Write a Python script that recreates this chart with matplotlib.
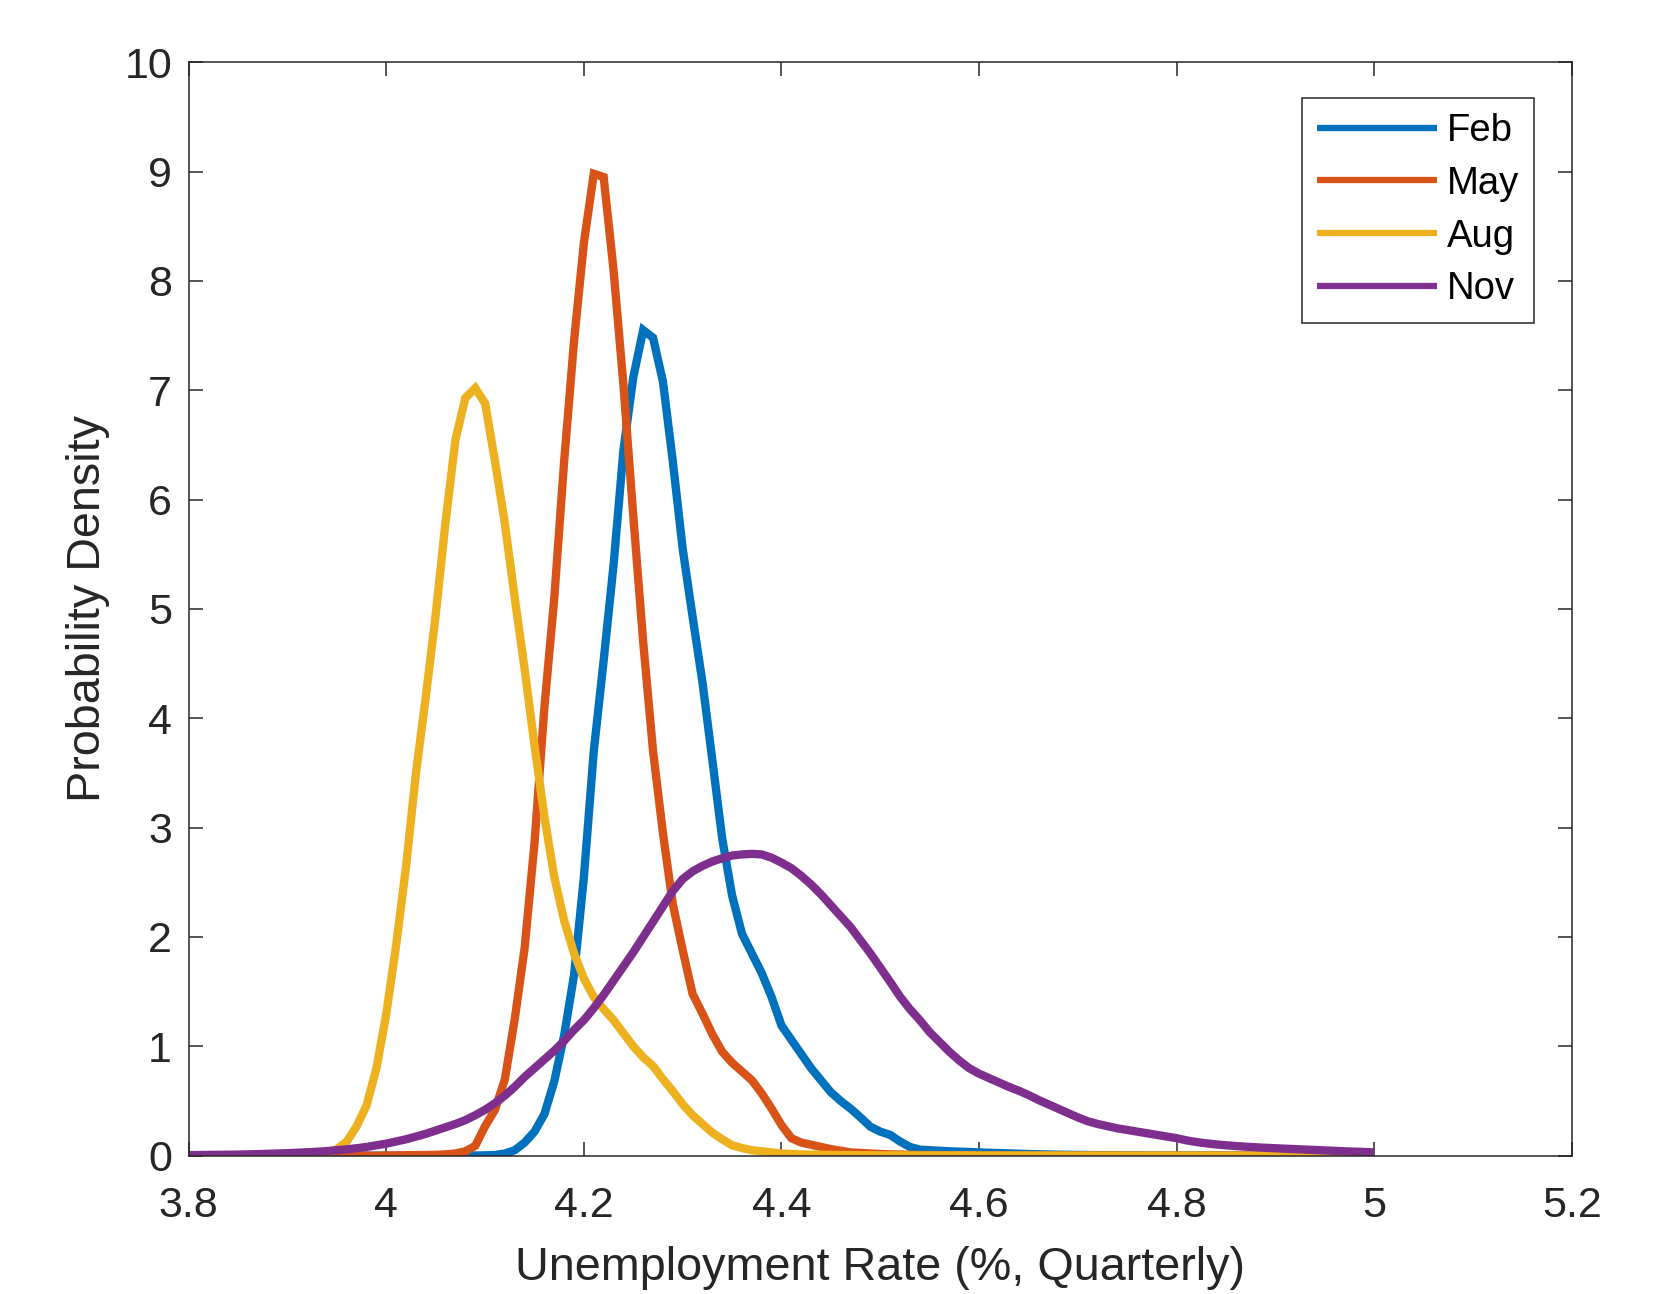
import numpy as np
import matplotlib
matplotlib.use('Agg')
import matplotlib.pyplot as plt

# sample positions of the density curves (unemployment rate, %)
rate = np.linspace(3.8, 5.0, 121)

feb = [0, 0, 0, 0, 0, 0, 0, 0, 0, 0,
       0, 0, 0, 0, 0, 0, 0, 0, 0, 0,
       0, 0, 0, 0, 0, 0, 0, 0, 0, 0.002,
       0.003, 0.006, 0.02, 0.05, 0.12, 0.22, 0.38, 0.68, 1.10, 1.65,
       2.55, 3.70, 4.53, 5.40, 6.45, 7.12, 7.55, 7.48, 7.08, 6.35,
       5.55, 4.93, 4.33, 3.62, 2.90, 2.38, 2.03, 1.85, 1.67, 1.45,
       1.19, 1.06, 0.93, 0.80, 0.69, 0.58, 0.50, 0.43, 0.35, 0.265,
       0.22, 0.19, 0.13, 0.08, 0.055, 0.05, 0.045, 0.04, 0.037, 0.034,
       0.03, 0.027, 0.024, 0.021, 0.018, 0.015, 0.013, 0.011, 0.009, 0.008,
       0.007, 0.006, 0.005, 0.004, 0.004, 0.003, 0.003, 0.002, 0.002, 0.002,
       0.001, 0.001, 0.001, 0.001, 0.001, 0.001, 0.001, 0.001, 0.001, 0.001,
       0, 0, 0, 0, 0, 0, 0, 0, 0, 0, 0]

may = [0, 0, 0, 0, 0, 0, 0, 0, 0, 0,
       0, 0, 0, 0, 0, 0, 0, 0, 0, 0,
       0.002, 0.003, 0.004, 0.005, 0.006, 0.008, 0.012, 0.02, 0.04, 0.09,
       0.27, 0.42, 0.70, 1.25, 1.90, 2.86, 4.10, 5.10, 6.35, 7.45,
       8.35, 8.98, 8.95, 8.10, 7.05, 5.85, 4.70, 3.70, 2.95, 2.30,
       1.88, 1.48, 1.30, 1.11, 0.95, 0.85, 0.77, 0.69, 0.57, 0.43,
       0.28, 0.16, 0.12, 0.10, 0.08, 0.06, 0.045, 0.03, 0.025, 0.02,
       0.015, 0.012, 0.01, 0.008, 0.006, 0.005, 0.004, 0.003, 0.003, 0.002,
       0.002, 0.002, 0.002, 0.001, 0.001, 0.001, 0.001, 0.001, 0.001, 0.001,
       0.001, 0.001, 0.001, 0.001, 0.001, 0, 0, 0, 0, 0,
       0, 0, 0, 0, 0, 0, 0, 0, 0, 0,
       0, 0, 0, 0, 0, 0, 0, 0, 0, 0, 0]

aug = [0, 0, 0, 0, 0, 0, 0, 0, 0, 0,
       0.002, 0.004, 0.008, 0.015, 0.03, 0.06, 0.13, 0.27, 0.46, 0.80,
       1.30, 1.93, 2.65, 3.50, 4.20, 4.95, 5.80, 6.55, 6.93, 7.02,
       6.88, 6.35, 5.78, 5.10, 4.45, 3.75, 3.10, 2.55, 2.15, 1.85,
       1.62, 1.45, 1.34, 1.24, 1.12, 1.00, 0.90, 0.82, 0.70, 0.59,
       0.47, 0.37, 0.29, 0.21, 0.15, 0.095, 0.07, 0.05, 0.04, 0.03,
       0.02, 0.015, 0.012, 0.01, 0.008, 0.007, 0.006, 0.005, 0.004, 0.004,
       0.003, 0.003, 0.003, 0.003, 0.003, 0.003, 0.003, 0.003, 0.003, 0.003,
       0.002, 0.002, 0.002, 0.002, 0.002, 0.002, 0.002, 0.002, 0.002, 0.002,
       0.001, 0.001, 0.001, 0.001, 0.001, 0.001, 0.001, 0.001, 0.001, 0.001,
       0.001, 0.001, 0.001, 0.001, 0.001, 0.001, 0.001, 0.001, 0.001, 0.001,
       0, 0, 0, 0, 0, 0, 0, 0, 0, 0, 0]

nov = [0.005, 0.006, 0.007, 0.008, 0.009, 0.010, 0.012, 0.014, 0.017, 0.020,
       0.023, 0.027, 0.031, 0.036, 0.042, 0.050, 0.058, 0.068, 0.080, 0.095,
       0.11, 0.13, 0.15, 0.175, 0.20, 0.23, 0.26, 0.29, 0.325, 0.37,
       0.42, 0.48, 0.55, 0.63, 0.72, 0.80, 0.88, 0.96, 1.05, 1.15,
       1.24, 1.35, 1.47, 1.60, 1.73, 1.86, 2.00, 2.14, 2.28, 2.42,
       2.53, 2.60, 2.65, 2.69, 2.72, 2.745, 2.755, 2.76, 2.755, 2.725,
       2.68, 2.63, 2.56, 2.48, 2.39, 2.29, 2.19, 2.09, 1.97, 1.85,
       1.72, 1.59, 1.455, 1.34, 1.24, 1.13, 1.04, 0.95, 0.87, 0.80,
       0.75, 0.71, 0.67, 0.63, 0.595, 0.555, 0.51, 0.47, 0.43, 0.39,
       0.35, 0.315, 0.29, 0.27, 0.25, 0.235, 0.22, 0.205, 0.19, 0.175,
       0.16, 0.14, 0.125, 0.113, 0.103, 0.095, 0.088, 0.082, 0.077, 0.072,
       0.068, 0.064, 0.060, 0.056, 0.052, 0.048, 0.044, 0.040, 0.037, 0.034, 0.030]

series = [('Feb', feb, '#0072BD'), ('May', may, '#D95319'),
          ('Aug', aug, '#EDB120'), ('Nov', nov, '#7E2F8E')]

xticks = [3.8, 4.0, 4.2, 4.4, 4.6, 4.8, 5.0, 5.2]
xticklabels = ['3.8', '4', '4.2', '4.4', '4.6', '4.8', '5', '5.2']
yticks = list(range(0, 11))

ink = '#262626'
plt.rcParams['font.family'] = ['Liberation Sans', 'DejaVu Sans']

fig = plt.figure(figsize=(16.81, 12.94), dpi=100)
ax = fig.add_axes([0.1123, 0.1069, 0.8227, 0.845])

for name, vals, col in series:
    ax.plot(rate, vals, color=col, lw=6, label=name,
            solid_capstyle='butt', solid_joinstyle='miter')

ax.set_xlim(3.8, 5.2)
ax.set_ylim(0, 10)
ax.set_xticks(xticks)
ax.set_xticklabels(xticklabels)
ax.set_yticks(yticks)
ax.tick_params(direction='in', length=10, width=1.1, colors=ink,
               labelsize=31, top=True, right=True)
ax.tick_params(axis='x', pad=22)
ax.tick_params(axis='y', pad=12)
for s in ax.spines.values():
    s.set_color(ink)
    s.set_linewidth(1.1)

ax.set_xlabel('Unemployment Rate (%, Quarterly)', fontsize=33.7, color=ink, labelpad=14)
ax.set_ylabel('Probability Density', fontsize=33.7, color=ink, labelpad=10)

leg = ax.legend(loc='upper left', bbox_to_anchor=(0.7744, 0.9245),
                bbox_transform=fig.transFigure, borderaxespad=0,
                fontsize=27.5, handlelength=3.15, handletextpad=0.25,
                labelspacing=0.44, borderpad=0.4, fancybox=False,
                framealpha=1, edgecolor=ink)
leg.get_frame().set_linewidth(1.1)
for ln in leg.get_lines():
    ln.set_linewidth(4.5)
for t in leg.get_texts():
    t.set_color('black')

fig.savefig('out.png', dpi=100, facecolor='white')
